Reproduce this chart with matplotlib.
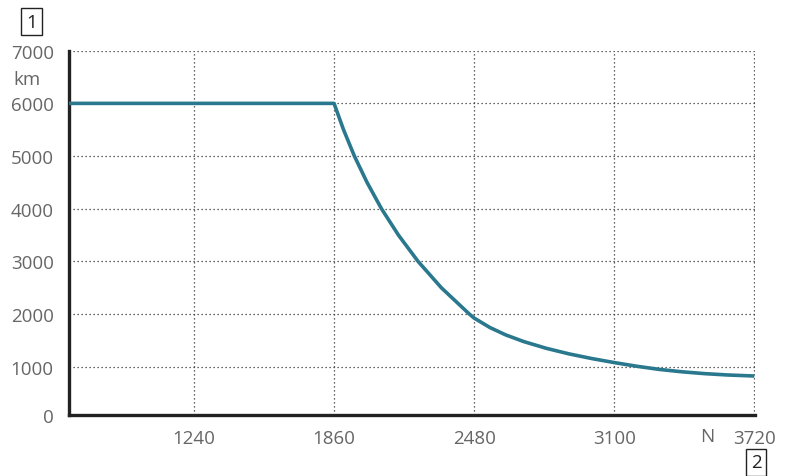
import matplotlib
matplotlib.use("Agg")
import matplotlib.pyplot as plt

plt.rcParams['font.family'] = ['Open Sans', 'DejaVu Sans']

# Range (km) versus payload curve
x_vals = [687, 1860, 1902, 1950, 2006, 2070, 2145, 2232, 2335, 2459, 2480,
          2550, 2620, 2700, 2800, 2900, 3000, 3100, 3200, 3300, 3400, 3500,
          3600, 3720]
y_vals = [6000, 6000, 5500, 5000, 4500, 4000, 3500, 3000, 2500, 2000, 1925,
          1745, 1605, 1478, 1350, 1245, 1157, 1080, 1010, 950, 905, 870,
          845, 825]

x_ticks = [1240, 1860, 2480, 3100, 3720]
y_ticks = [1000, 2000, 3000, 4000, 5000, 6000, 7000]
x_min, x_max = 687, 3723
y_min, y_max = 85, 7000

fig = plt.figure(figsize=(7.87, 4.77), dpi=100)
ax = fig.add_axes([0.0877, 0.1279, 0.9593 - 0.0877, 0.8916 - 0.1279])

ax.plot(x_vals, y_vals, color='#2a788e', lw=2.6, solid_capstyle='butt',
        solid_joinstyle='round', zorder=3)

ax.set_xlim(x_min, x_max)
ax.set_ylim(y_min, y_max)
ax.set_xticks(x_ticks)
ax.set_xticklabels([str(v) for v in x_ticks])
ax.set_yticks([y_min] + y_ticks)
ax.set_yticklabels(['0'] + [str(v) for v in y_ticks])

ax.grid(True, linestyle=(0, (1, 2.2)), color='#333333', lw=0.9)
ax.set_axisbelow(True)

for s in ['top', 'right']:
    ax.spines[s].set_visible(False)
for s in ['left', 'bottom']:
    ax.spines[s].set_linewidth(2.4)
    ax.spines[s].set_color('#222222')

ax.tick_params(length=0, labelsize=13.5, labelcolor='#666666')
ax.tick_params(axis='y', pad=11)
ax.tick_params(axis='x', pad=10)

W, H = 787, 477
fig.text(27 / W, 1 - 80 / H, 'km', ha='center', va='center',
         fontsize=13.5, color='#666666')
fig.text(707 / W, 1 - 437 / H, 'N', ha='center', va='center',
         fontsize=13.5, color='#666666')

box = dict(boxstyle='square,pad=0.26', fc='white', ec='#222222', lw=1.0)
fig.text(31.7 / W, 1 - 22.5 / H, '1', ha='center', va='center',
         fontsize=13.5, color='#222222', bbox=box)
fig.text(756 / W, 1 - 463.5 / H, '2', ha='center', va='center',
         fontsize=13.5, color='#222222', bbox=box)

fig.savefig('out.png', dpi=100)
